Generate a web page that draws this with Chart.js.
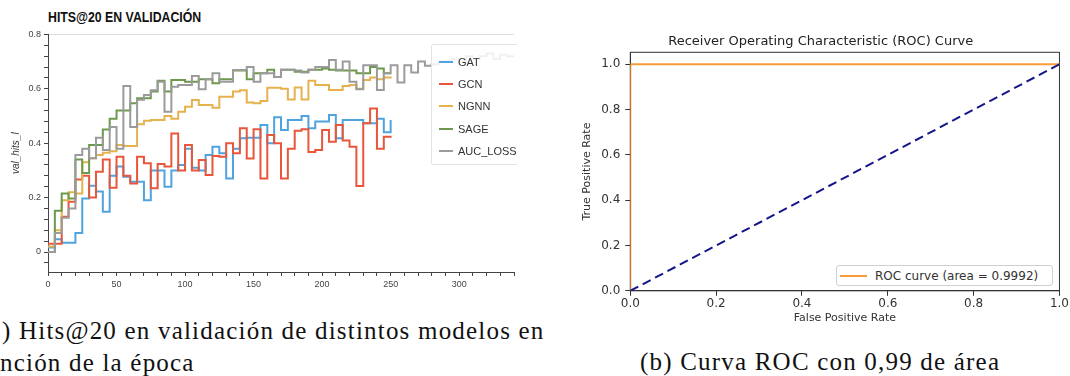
<!DOCTYPE html>
<html>
<head>
<meta charset="utf-8">
<script src="https://cdn.jsdelivr.net/npm/chart.js@4.4.1/dist/chart.umd.min.js"></script>
<style>
  html, body { margin: 0; padding: 0; background: #fff; }
  body { width: 1070px; height: 376px; position: relative; overflow: hidden; }
  #leftPanel { position: absolute; left: 0; top: 0; width: 517px; height: 300px; overflow: hidden; }
  #hitsChart { position: absolute; left: 0; top: 0; }
  #hitsTitle { position: absolute; left: 48px; top: 8px; font: bold 15px 'Liberation Sans', Arial, sans-serif; color: #111;
    transform: scaleX(0.82); transform-origin: left center; white-space: nowrap; }
  #hitsLegend { position: absolute; left: 431px; top: 44px; width: 110px; padding-top: 6px; padding-bottom: 2px;
    background: rgba(255, 255, 255, 0.85); border: 1px solid #e3e3e3; border-radius: 2px; }
  .legend-item { display: flex; align-items: center; height: 22.2px; font: 11px 'Liberation Sans', Arial, sans-serif; color: #333; }
  .legend-color { width: 14px; height: 2px; margin-left: 7px; margin-right: 5px; }
  #rocChart { position: absolute; left: 560px; top: 20px; }
  #rocLegend { position: absolute; left: 836px; top: 265px; width: 215px; height: 19px; background: #fff;
    border: 1px solid #cfcfcf; border-radius: 3px; display: flex; align-items: center;
    font: 12px 'DejaVu Sans', sans-serif; color: #333; }
  #rocLegend .legend-color { width: 27px; margin-left: 3px; margin-right: 8px; }
  .caption { position: absolute; font-family: 'Liberation Serif', serif; font-size: 25px; line-height: 30px;
    letter-spacing: 1.2px; color: #111; white-space: nowrap; }
</style>
</head>
<body>
<div id="leftPanel">
  <div id="hitsTitle">HITS@20 EN VALIDACIÓN</div>
  <canvas id="hitsChart" width="517" height="300"></canvas>
  <div id="hitsLegend"></div>
</div>
<canvas id="rocChart" width="510" height="320"></canvas>
<div id="rocLegend"></div>
<div class="caption" style="left:2px; top:316px;">) Hits@20 en validación de distintos modelos en</div>
<div class="caption" style="left:0px; top:348px;">nción de la época</div>
<div class="caption" style="left:640px; top:347px;">(b) Curva ROC con 0,99 de área</div>

<script>
// Données - Hits@20 en validation (une valeur toutes les 5 époques)
const EPOCHS = [0, 5, 10, 15, 20, 25, 30, 35, 40, 45, 50, 55, 60, 65, 70, 75, 80, 85, 90, 95,
  100, 105, 110, 115, 120, 125, 130, 135, 140, 145, 150, 155, 160, 165, 170, 175, 180, 185, 190, 195,
  200, 205, 210, 215, 220, 225, 230, 235, 240, 245, 250];
const EPOCHS_AUC = [0, 5, 10, 15, 20, 25, 30, 35, 40, 45, 50, 55, 60, 65, 70, 75, 80, 85, 90, 95,
  100, 105, 110, 115, 120, 125, 130, 135, 140, 145, 150, 155, 160, 165, 170, 175, 180, 185, 190, 195,
  200, 205, 210, 215, 220, 225, 230, 235, 240, 245, 250, 255, 260, 265, 270, 275, 280, 285, 290, 295,
  300, 305, 310, 315, 320, 325, 330, 335, 340];

const GAT = [0.017, 0.047, 0.034, 0.034, 0.07, 0.197, 0.244, 0.222, 0.148, 0.28,
  0.314, 0.277, 0.258, 0.258, 0.19, 0.3, 0.3, 0.24, 0.3, 0.32,
  0.38, 0.31, 0.3, 0.357, 0.387, 0.363, 0.27, 0.38, 0.418, 0.42,
  0.42, 0.467, 0.4, 0.495, 0.449, 0.485, 0.485, 0.5, 0.455, 0.48,
  0.48, 0.504, 0.418, 0.485, 0.485, 0.485, 0.473, 0.473, 0.49, 0.44,
  0.485];
const GCN = [0.03, 0.03, 0.13, 0.185, 0.267, 0.28, 0.2, 0.295, 0.34, 0.236,
  0.35, 0.28, 0.252, 0.35, 0.326, 0.234, 0.324, 0.314, 0.436, 0.3,
  0.393, 0.3, 0.338, 0.283, 0.353, 0.35, 0.4, 0.363, 0.455, 0.344,
  0.451, 0.27, 0.43, 0.4, 0.27, 0.38, 0.446, 0.451, 0.368, 0.375,
  0.449, 0.405, 0.467, 0.41, 0.387, 0.243, 0.473, 0.528, 0.38, 0.424,
  0.42];
const NGNN = [0.02, 0.08, 0.19, 0.22, 0.215, 0.33, 0.345, 0.357, 0.365, 0.37,
  0.393, 0.39, 0.39, 0.47, 0.483, 0.485, 0.485, 0.5, 0.49, 0.516,
  0.534, 0.559, 0.54, 0.54, 0.53, 0.571, 0.571, 0.59, 0.595, 0.55,
  0.547, 0.555, 0.604, 0.604, 0.6, 0.561, 0.605, 0.561, 0.63, 0.614,
  0.614, 0.596, 0.596, 0.61, 0.614, 0.6, 0.632, 0.642, 0.635, 0.642,
  0.645];
const SAGE = [0, 0.152, 0.215, 0.197, 0.34, 0.29, 0.393, 0.393, 0.45, 0.49,
  0.52, 0.52, 0.547, 0.565, 0.565, 0.59, 0.63, 0.59, 0.632, 0.632,
  0.626, 0.626, 0.635, 0.635, 0.62, 0.635, 0.635, 0.667, 0.667, 0.635,
  0.657, 0.657, 0.67, 0.643, 0.67, 0.67, 0.663, 0.663, 0.67, 0.67,
  0.675, 0.67, 0.667, 0.667, 0.667, 0.657, 0.657, 0.68, 0.675, 0.657,
  0.657];
const AUC_LOSS = [0, 0.07, 0.126, 0.16, 0.357, 0.38, 0.345, 0.42, 0.375, 0.46,
  0.38, 0.61, 0.46, 0.56, 0.577, 0.595, 0.626, 0.516, 0.608, 0.614,
  0.614, 0.647, 0.598, 0.635, 0.657, 0.626, 0.626, 0.669, 0.669, 0.68,
  0.626, 0.657, 0.657, 0.643, 0.67, 0.67, 0.667, 0.66, 0.67, 0.68,
  0.68, 0.706, 0.67, 0.7, 0.626, 0.598, 0.687, 0.687, 0.596, 0.657,
  0.687, 0.623, 0.687, 0.66, 0.7, 0.685, 0.69, 0.7, 0.7, 0.71,
  0.7, 0.72, 0.71, 0.72, 0.73, 0.71, 0.725, 0.72, 0.72];

// Graduations (majeures avec étiquette, mineures sans)
const HITS_X_TICKS = [0, 10, 20, 30, 40, 50, 60, 70, 80, 90, 100, 110, 120, 130, 140, 150, 160, 170,
  180, 190, 200, 210, 220, 230, 240, 250, 260, 270, 280, 290, 300, 310, 320, 330, 340];
const HITS_X_LABELS = [0, 50, 100, 150, 200, 250, 300];
const HITS_Y_TICKS = [-0.04, 0, 0.04, 0.08, 0.12, 0.16, 0.2, 0.24, 0.28, 0.32, 0.36, 0.4,
  0.44, 0.48, 0.52, 0.56, 0.6, 0.64, 0.68, 0.72, 0.76, 0.8];
const HITS_Y_LABELS = [0, 0.2, 0.4, 0.6, 0.8];

// Données - courbe ROC
const ROC_FPR = [0, 0, 0.002, 1];
const ROC_TPR = [0, 0.996, 1, 1];
const CHANCE_FPR = [0, 1];
const CHANCE_TPR = [0, 1];
const ROC_TICKS = [0, 0.2, 0.4, 0.6, 0.8, 1.0];

const chartColors = {
  gat: '#4fa3de',
  gcn: '#e8563b',
  ngnn: '#e5b24e',
  sage: '#6c994d',
  auc: '#9b9b9b',
  roc: '#f79a3a',
  chance: '#16168a'
};

const sansFont = "'Liberation Sans', Arial, sans-serif";
const dejavu = "'DejaVu Sans', sans-serif";

function toPoints(xs, ys) {
  return ys.map((y, i) => ({ x: xs[i], y: y }));
}

function stepSeries(label, xs, ys, color, order) {
  return {
    label: label,
    data: toPoints(xs, ys),
    borderColor: color,
    backgroundColor: color,
    borderWidth: 2,
    pointRadius: 0,
    stepped: true,
    fill: false,
    order: order
  };
}

// Graphique Hits@20
const hitsChart = new Chart(document.getElementById('hitsChart'), {
  type: 'line',
  data: {
    datasets: [
      stepSeries('GAT', EPOCHS, GAT, chartColors.gat, 5),
      stepSeries('GCN', EPOCHS, GCN, chartColors.gcn, 4),
      stepSeries('NGNN', EPOCHS, NGNN, chartColors.ngnn, 3),
      stepSeries('SAGE', EPOCHS, SAGE, chartColors.sage, 2),
      stepSeries('AUC_LOSS', EPOCHS_AUC, AUC_LOSS, chartColors.auc, 1)
    ]
  },
  options: {
    responsive: false,
    animation: false,
    layout: { padding: { left: 10, top: 34.4, right: 2, bottom: 0 } },
    plugins: {
      legend: { display: false },
      tooltip: { enabled: false }
    },
    scales: {
      x: {
        type: 'linear',
        min: 0,
        max: 340,
        afterBuildTicks: (scale) => { scale.ticks = HITS_X_TICKS.map(v => ({ value: v })); },
        afterFit: (scale) => { scale.height = 28; },
        border: { color: '#444', width: 1 },
        grid: { drawOnChartArea: false, tickLength: 4, tickColor: '#444' },
        ticks: {
          autoSkip: false,
          maxRotation: 0,
          padding: 3,
          color: '#444',
          font: { family: sansFont, size: 9 },
          callback: (value) => HITS_X_LABELS.includes(value) ? String(value) : ''
        }
      },
      y: {
        min: -0.0735,
        max: 0.8,
        afterBuildTicks: (scale) => { scale.ticks = HITS_Y_TICKS.map(v => ({ value: v })); },
        afterFit: (scale) => { scale.width = 38; },
        border: { color: '#444', width: 1 },
        grid: {
          color: (ctx) => (ctx.tick && ctx.tick.value === 0.8) ? '#dedede' : 'rgba(0,0,0,0)',
          tickColor: '#444',
          tickLength: 4
        },
        ticks: {
          autoSkip: false,
          padding: 3,
          color: '#444',
          font: { family: sansFont, size: 9 },
          callback: (value) => HITS_Y_LABELS.includes(value) ? String(value) : ''
        },
        title: {
          display: true,
          text: 'val_hits_l',
          color: '#333',
          padding: 0,
          font: { family: sansFont, size: 10, style: 'italic' }
        }
      }
    }
  }
});

// Légende HTML à partir des séries
function createLegend(containerId, chart) {
  const container = document.getElementById(containerId);
  if (!container) return;
  chart.data.datasets.forEach((dataset) => {
    const item = document.createElement('div');
    item.className = 'legend-item';
    item.innerHTML = `
      <div class="legend-color" style="background-color: ${dataset.borderColor}"></div>
      <span class="legend-label">${dataset.label}</span>
    `;
    container.appendChild(item);
  });
}
createLegend('hitsLegend', hitsChart);

// Cadre complet autour de la zone du graphique ROC
const framePlugin = {
  id: 'frame',
  beforeDatasetsDraw(chart) {
    const { ctx, chartArea } = chart;
    ctx.save();
    ctx.strokeStyle = '#333';
    ctx.lineWidth = 1;
    ctx.strokeRect(chartArea.left, chartArea.top, chartArea.right - chartArea.left, chartArea.bottom - chartArea.top);
    ctx.restore();
  }
};

// Graphique ROC
const rocChart = new Chart(document.getElementById('rocChart'), {
  type: 'line',
  data: {
    datasets: [
      {
        label: 'ROC curve (area = 0.9992)',
        data: toPoints(ROC_FPR, ROC_TPR),
        borderColor: chartColors.roc,
        backgroundColor: chartColors.roc,
        borderWidth: 2,
        pointRadius: 0,
        tension: 0,
        order: 2
      },
      {
        label: 'chance',
        data: toPoints(CHANCE_FPR, CHANCE_TPR),
        borderColor: chartColors.chance,
        borderWidth: 2,
        borderDash: [9, 5],
        pointRadius: 0,
        tension: 0,
        order: 1
      }
    ]
  },
  options: {
    responsive: false,
    animation: false,
    layout: { padding: { left: 20.4, top: 0, right: 9, bottom: 15.4 } },
    plugins: {
      legend: { display: false },
      tooltip: { enabled: false },
      title: {
        display: true,
        text: 'Receiver Operating Characteristic (ROC) Curve',
        color: '#222',
        font: { family: dejavu, size: 13, weight: 'normal' },
        padding: { top: 14, bottom: 2.7 }
      }
    },
    scales: {
      x: {
        type: 'linear',
        min: 0,
        max: 1,
        afterBuildTicks: (scale) => { scale.ticks = ROC_TICKS.map(v => ({ value: v })); },
        afterFit: (scale) => { scale.height = 33.8; },
        border: { color: '#333', width: 1 },
        grid: { drawOnChartArea: false, tickLength: 5, tickColor: '#333' },
        ticks: {
          autoSkip: false,
          maxRotation: 0,
          padding: 1,
          color: '#333',
          font: { family: dejavu, size: 12 },
          callback: (value) => value.toFixed(1)
        },
        title: {
          display: true,
          text: 'False Positive Rate',
          color: '#333',
          padding: 0,
          font: { family: dejavu, size: 11 }
        }
      },
      y: {
        min: 0,
        max: 1.053,
        afterBuildTicks: (scale) => { scale.ticks = ROC_TICKS.map(v => ({ value: v })); },
        afterFit: (scale) => { scale.width = 49.9; },
        border: { color: '#333', width: 1 },
        grid: { drawOnChartArea: false, tickLength: 5, tickColor: '#333' },
        ticks: {
          autoSkip: false,
          padding: 5,
          color: '#333',
          font: { family: dejavu, size: 12 },
          callback: (value) => value.toFixed(1)
        },
        title: {
          display: true,
          text: 'True Positive Rate',
          color: '#333',
          padding: 0,
          font: { family: dejavu, size: 11 }
        }
      }
    }
  },
  plugins: [framePlugin]
});

// Légende ROC (seulement la courbe)
const rocLegend = document.getElementById('rocLegend');
const rocSet = rocChart.data.datasets[0];
rocLegend.innerHTML = `
  <div class="legend-color" style="background-color: ${rocSet.borderColor}"></div>
  <span class="legend-label">${rocSet.label}</span>
`;
</script>
</body>
</html>
